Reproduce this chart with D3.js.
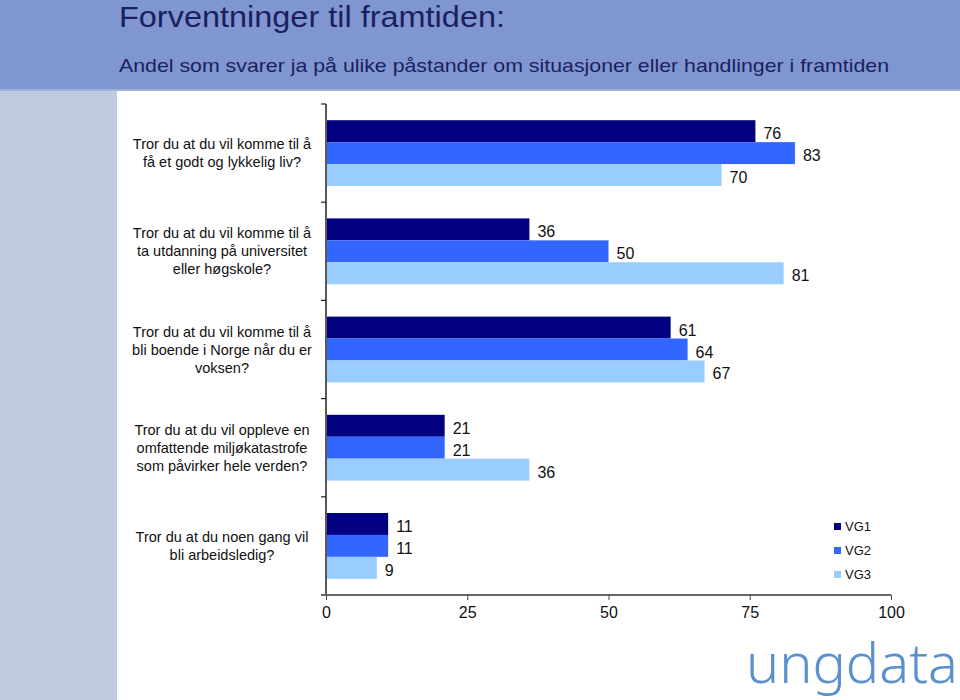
<!DOCTYPE html>
<html><head><meta charset="utf-8">
<script src="https://cdn.jsdelivr.net/npm/d3@7"></script>
<style>html,body{margin:0;padding:0;background:#fff;}svg{display:block;}</style>
</head><body>
<svg id="chart" width="960" height="700"></svg>
<script>
const categories = [
  ["Tror du at du vil komme til å", "få et godt og lykkelig liv?"],
  ["Tror du at du vil komme til å", "ta utdanning på universitet", "eller høgskole?"],
  ["Tror du at du vil komme til å", "bli boende i Norge når du er", "voksen?"],
  ["Tror du at du vil oppleve en", "omfattende miljøkatastrofe", "som påvirker hele verden?"],
  ["Tror du at du noen gang vil", "bli arbeidsledig?"]
];
const seriesNames = ["VG1", "VG2", "VG3"];
const vg1 = [76, 36, 61, 21, 11];
const vg2 = [83, 50, 64, 21, 11];
const vg3 = [70, 81, 67, 36, 9];
const xTicks = [0, 25, 50, 75, 100];
const colors = ["#000080", "#3366ff", "#99ccff"];

const series = [vg1, vg2, vg3];
const svg = d3.select("#chart");

// background blocks
svg.append("rect").attr("x",0).attr("y",0).attr("width",960).attr("height",90).attr("fill","#8096d2");
svg.append("rect").attr("x",0).attr("y",89).attr("width",960).attr("height",2).attr("fill","#9eb0dc");
svg.append("rect").attr("x",0).attr("y",91).attr("width",117).attr("height",609).attr("fill","#bfcbe0");

svg.append("text").attr("x",119).attr("y",27)
  .attr("font-family","'Liberation Sans Narrow', 'Liberation Sans', sans-serif").attr("font-size",29)
  .attr("textLength",386).attr("lengthAdjust","spacingAndGlyphs")
  .attr("fill","#1c1f5e").text("Forventninger til framtiden:");
svg.append("text").attr("x",119).attr("y",72)
  .attr("font-family","'Liberation Sans Narrow', 'Liberation Sans', sans-serif").attr("font-size",19)
  .attr("textLength",770).attr("lengthAdjust","spacingAndGlyphs")
  .attr("fill","#1c1f5e").text("Andel som svarer ja på ulike påstander om situasjoner eller handlinger i framtiden");

const x = d3.scaleLinear().domain([0,100]).range([326,891]);
const y = d3.scaleBand().domain(d3.range(categories.length)).range([104,595]).paddingInner(0.33).paddingOuter(0.165);
const ySub = d3.scaleBand().domain(d3.range(seriesNames.length)).range([0, y.bandwidth()]);

const font = "'Liberation Sans', Arial, sans-serif";

// bars
series.forEach((vals, si) => {
  svg.append("g").selectAll("rect").data(vals).join("rect")
    .attr("x", x(0)+1)
    .attr("y", (d,i) => y(i) + ySub(si))
    .attr("width", d => x(d) - x(0) - 1)
    .attr("height", ySub.bandwidth())
    .attr("fill", colors[si]);
  svg.append("g").selectAll("text").data(vals).join("text")
    .attr("x", d => x(d) + 8)
    .attr("y", (d,i) => y(i) + ySub(si) + ySub.bandwidth()/2 + 8)
    .attr("font-family", font).attr("font-size", 16).attr("fill","#111")
    .text(d => d);
});

// y axis line and ticks at group boundaries
const yAxisG = svg.append("g");
yAxisG.append("line").attr("x1",x(0)).attr("x2",x(0)).attr("y1",104).attr("y2",595).attr("stroke","#222").attr("stroke-width",1.5);
const step = (595-104)/categories.length;
yAxisG.selectAll("line.t").data(d3.range(categories.length+1)).join("line").attr("class","t")
  .attr("x1",x(0)-5).attr("x2",x(0)).attr("y1",i=>104+i*step).attr("y2",i=>104+i*step)
  .attr("stroke","#222").attr("stroke-width",1.2);

// x axis
const xAxis = d3.axisBottom(x).tickValues(xTicks).tickSize(5).tickFormat(d3.format("d"));
const xg = svg.append("g").attr("transform","translate(0,595)").call(xAxis);
xg.select(".domain").attr("stroke","#666").attr("stroke-width",2).attr("d","M"+(x(0)-5)+",0H"+x(100));
xg.selectAll(".tick line").attr("stroke","#444");
xg.selectAll(".tick text").attr("font-family",font).attr("font-size",16).attr("fill","#111").attr("dy","0.95em");

// category labels
const labelG = svg.append("g");
categories.forEach((lines, i) => {
  const cy = y(i) + y.bandwidth()/2;
  const lh = 18;
  const t = labelG.append("text").attr("text-anchor","middle")
    .attr("font-family",font).attr("font-size",14.5).attr("fill","#111");
  lines.forEach((ln, j) => {
    t.append("tspan").attr("x",222)
      .attr("y", cy + (j - (lines.length-1)/2)*lh + 5).text(ln);
  });
});

// legend
const lg = svg.append("g");
seriesNames.forEach((n, i) => {
  lg.append("rect").attr("x",834).attr("y",523+i*24).attr("width",7).attr("height",7).attr("fill",colors[i]);
  lg.append("text").attr("x",845).attr("y",531+i*24).attr("font-family",font).attr("font-size",13).attr("fill","#111").text(n);
});

// logo
svg.append("text").attr("x",746).attr("y",683)
  .attr("font-family","'Noto Sans', sans-serif").attr("font-weight",300).attr("font-size",55)
  .attr("textLength",212).attr("lengthAdjust","spacingAndGlyphs")
  .attr("fill","#5a8fd0").text("ungdata");
</script>
</body></html>
